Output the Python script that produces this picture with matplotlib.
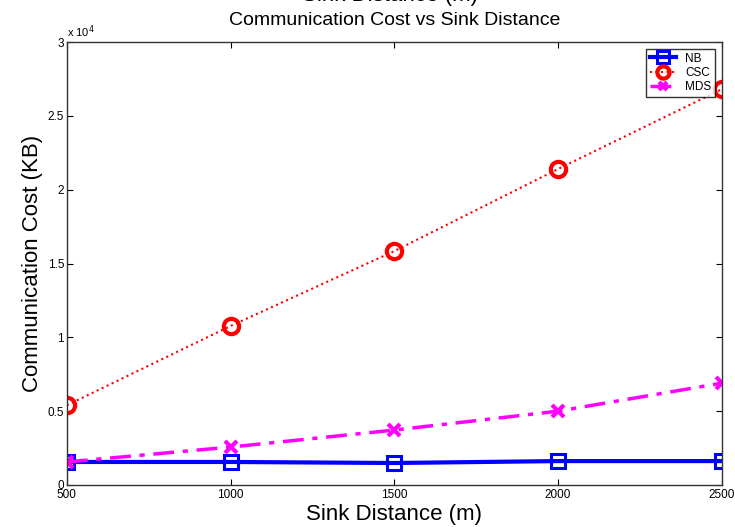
import matplotlib
matplotlib.use("Agg")
import matplotlib.pyplot as plt

plt.rcParams["font.family"] = ["Liberation Sans", "DejaVu Sans"]

distance = [500, 1000, 1500, 2000, 2500]
nb = [1560, 1560, 1490, 1620, 1620]
csc = [5400, 10770, 15840, 21400, 26800]
mds = [1560, 2570, 3720, 5000, 6900]

fig = plt.figure(figsize=(7.35, 5.27), dpi=100)
ax = fig.add_axes([0.091, 0.0797, 0.891, 0.8406])

ax.plot(distance, nb, color="#0000ff", lw=3, marker="s", ms=10, mfc="none",
        mew=2.2, label="NB")
ax.plot(distance, csc, color="#ff0000", lw=1.5, ls=":", marker="o", ms=11,
        mfc="none", mew=3, label="CSC")
ax.plot(distance, mds, color="#ff00ff", lw=2.5, ls=(0, (6, 2.5, 1.5, 2.5)),
        marker="x", ms=8, mew=3, label="MDS")

ax.set_xlim(500, 2500)
ax.set_ylim(0, 30000)
ax.set_xticks(distance)
ax.set_yticks([0, 5000, 10000, 15000, 20000, 25000, 30000])
ax.set_yticklabels(["0", "0.5", "1", "1.5", "2", "2.5", "3"])
ax.tick_params(direction="in", length=4, labelsize=8.5, top=True, right=True)
ax.tick_params(axis="x", pad=3)
ax.tick_params(axis="y", pad=2)
for s in ax.spines.values():
    s.set_linewidth(1.0)
    s.set_color("#333333")

ax.text(0.0, 1.005, r"x 10$^4$", transform=ax.transAxes, fontsize=8,
        ha="left", va="bottom")
ax.set_xlabel("Sink Distance (m)", fontsize=16, labelpad=2)
ax.set_ylabel("Communication Cost (KB)", fontsize=16, labelpad=3)
ax.set_title("Communication Cost vs Sink Distance", fontsize=14, pad=12)
fig.text(0.53, 1.008, "Sink Distance (m)", fontsize=16, ha="center",
         va="center")

leg = ax.legend(loc="upper right", fontsize=8.5, frameon=True, fancybox=False,
                edgecolor="black", borderpad=0.3, labelspacing=0.2,
                handlelength=2.2, markerscale=0.8, borderaxespad=0.6)
leg.get_frame().set_linewidth(1.0)

fig.savefig("out.png", dpi=100)
